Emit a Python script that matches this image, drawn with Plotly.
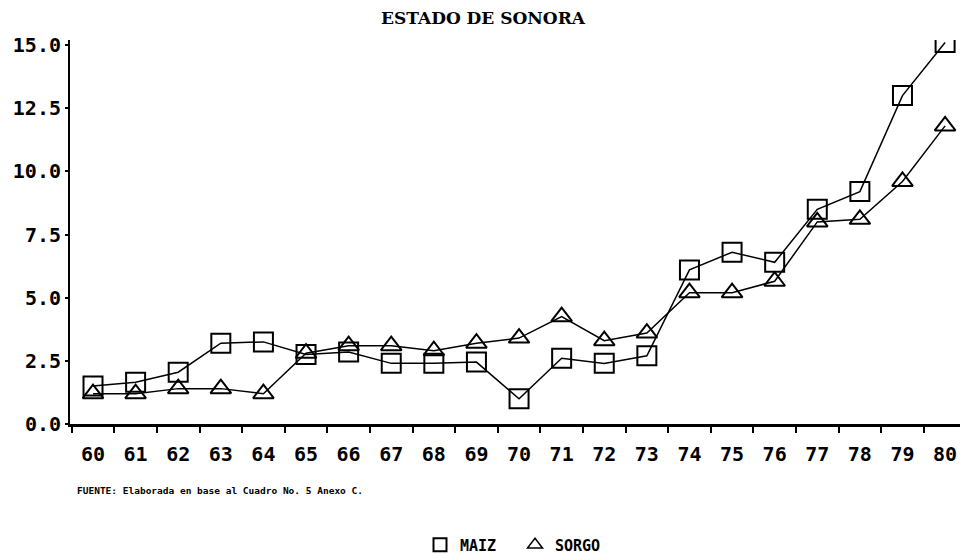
import plotly.graph_objects as go

# años (eje x) y valores
years = ["60", "61", "62", "63", "64", "65", "66", "67", "68", "69", "70",
         "71", "72", "73", "74", "75", "76", "77", "78", "79", "80"]
maiz = [1.5, 1.65, 2.05, 3.2, 3.25, 2.75, 2.85, 2.4, 2.4, 2.45, 1.0,
        2.6, 2.4, 2.7, 6.1, 6.8, 6.4, 8.5, 9.2, 13.0, 15.1]
sorgo = [1.2, 1.2, 1.4, 1.4, 1.2, 2.8, 3.1, 3.1, 2.9, 3.2, 3.4,
         4.25, 3.3, 3.6, 5.2, 5.2, 5.65, 8.0, 8.1, 9.6, 11.8]
y_ticks = [0, 2.5, 5, 7.5, 10, 12.5, 15]

mono = "DejaVu Sans Mono"

fig = go.Figure()

fig.add_trace(go.Scatter(
    x=years, y=maiz, mode="lines+markers", name="MAIZ", showlegend=False,
    line=dict(color="black", width=1.5),
    marker=dict(symbol="square-open", size=19, color="black", line=dict(width=2)),
))
fig.add_trace(go.Scatter(
    x=years, y=sorgo, mode="lines+markers", name="SORGO", showlegend=False,
    line=dict(color="black", width=1.5),
    marker=dict(symbol="triangle-up-open", size=18, color="black", line=dict(width=2)),
))

# entradas de leyenda solo con el simbolo
fig.add_trace(go.Scatter(
    x=[None], y=[None], mode="markers", name="MAIZ",
    marker=dict(symbol="square-open", size=13, color="black", line=dict(width=2)),
))
fig.add_trace(go.Scatter(
    x=[None], y=[None], mode="markers", name="SORGO",
    marker=dict(symbol="triangle-up-open", size=13, color="black", line=dict(width=1.5)),
))

fig.add_annotation(
    text="FUENTE: Elaborada en base al Cuadro No. 5 Anexo C.",
    xref="paper", yref="paper", x=0.006, y=-0.172, xanchor="left", yanchor="middle",
    showarrow=False, font=dict(family=mono, size=9.5, color="black", weight="bold"),
)

fig.update_layout(
    width=966, height=554,
    margin=dict(l=70, r=6, t=40, b=130, autoexpand=False),
    paper_bgcolor="white", plot_bgcolor="white",
    title=dict(text="ESTADO DE SONORA", x=0.5, xanchor="center",
               y=0.967, yanchor="middle",
               font=dict(family="DejaVu Serif", size=17, color="black", weight="bold")),
    legend=dict(orientation="h", x=0.5, xanchor="center", y=-0.315, yanchor="middle",
                font=dict(family=mono, size=15, color="black", weight="bold"),
                itemwidth=30, entrywidth=50),
    xaxis=dict(
        type="category", range=[-0.54, 20.35], tickson="boundaries",
        showline=True, linecolor="black", linewidth=3,
        ticks="outside", ticklen=6, tickwidth=2, tickcolor="black",
        showgrid=False, zeroline=False, automargin=False,
        ticklabelstandoff=10,
        tickfont=dict(family=mono, size=20, color="black", weight="bold"),
    ),
    yaxis=dict(
        range=[0, 15.2], tickvals=y_ticks, tickformat=".1f",
        showline=True, linecolor="black", linewidth=2,
        ticks="outside", ticklen=3, tickwidth=2, tickcolor="black",
        showgrid=False, zeroline=False, automargin=False,
        tickfont=dict(family=mono, size=20, color="black", weight="bold"),
    ),
)

# quitar el margen por defecto del body para que la figura quede en (0, 0)
fig.write_html("out.html", config={"displayModeBar": False},
               post_script="document.body.style.margin='0';")
